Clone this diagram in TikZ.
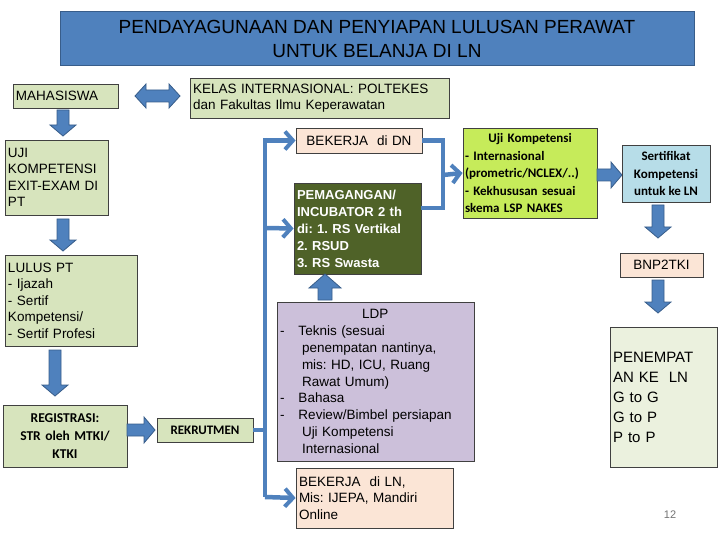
\documentclass[tikz,border=0pt]{standalone}
\usepackage{fontspec}
\setmainfont{Liberation Sans}
\newfontfamily\calfnt{Carlito}
\usetikzlibrary{arrows.meta}
\frenchspacing
\definecolor{bl}{HTML}{4F81BD}
\definecolor{bld}{HTML}{385D8A}
\definecolor{lg}{HTML}{D7E4BD}
\definecolor{pe}{HTML}{FBE5D6}
\definecolor{ol}{HTML}{4F6228}
\definecolor{lav}{HTML}{CCC0DA}
\definecolor{yg}{HTML}{C6EB5A}
\definecolor{sky}{HTML}{B7DDE8}
\definecolor{pl}{HTML}{EBF1DE}
\tikzset{
 box/.style={draw=black!75, line width=0.8pt, inner sep=3pt, font=\fontsize{13.5}{16.5}\selectfont, align=left},
 fat/.style={fill=bl, draw=bld, line width=0.8pt},
 conn/.style={draw=bl, line width=4.5pt},
 tip/.style={-{Straight Barb[length=8pt,width=18pt,line width=4pt]}}
}
\newcommand{\fatdn}[3]{\path[fat] (#1-6,#2) -- (#1+6,#2) -- (#1+6,#3-11) -- (#1+13,#3-11) -- (#1,#3) -- (#1-13,#3-11) -- (#1-6,#3-11) -- cycle;}
\newcommand{\fatrt}[3]{\path[fat] (#1,#3-6) -- (#2-11,#3-6) -- (#2-11,#3-13) -- (#2,#3) -- (#2-11,#3+13) -- (#2-11,#3+6) -- (#1,#3+6) -- cycle;}
\begin{document}
\begin{tikzpicture}[x=1pt,y=-1pt]
\useasboundingbox (0,0) rectangle (720,540);
% title
\node[fill=bl, draw=bld, line width=1pt, minimum width=634pt, minimum height=54pt, align=center, font=\fontsize{19}{24}\selectfont] (title) at (377,39) {PENDAYAGUNAAN DAN PENYIAPAN LULUSAN PERAWAT\\UNTUK BELANJA DI LN};
\node[box, fill=lg, minimum width=105pt, minimum height=24pt, text width=99pt] (mhs) at (65.5,96) {MAHASISWA};
\node[box, fill=lg, minimum width=259pt, minimum height=40pt, text width=253pt] (kelas) at (319.5,98) {KELAS INTERNASIONAL: POLTEKES\\dan Fakultas Ilmu Keperawatan};
\path[fat] (135,96) -- (146,84) -- (146,90) -- (169,90) -- (169,84) -- (180,96) -- (169,108) -- (169,102) -- (146,102) -- (146,108) -- cycle;
\node[box, fill=lg, minimum width=103pt, minimum height=75pt, text width=97pt] (uji) at (56.5,177.5) {UJI\\KOMPETENSI\\EXIT-EXAM DI\\PT};
\fatdn{63}{110}{136}
\fatdn{63}{219}{251}
\node[box, fill=lg, minimum width=132pt, minimum height=91pt, text width=126pt] (lulus) at (71,300.5) {LULUS PT\\- Ijazah\\- Sertif\\Kompetensi/\\- Sertif Profesi};
\fatdn{55}{350}{396}
\node[box, fill=lg, minimum width=124pt, minimum height=62pt, text width=118pt, align=center, font=\calfnt\bfseries\fontsize{13.5}{18}\selectfont] (reg) at (65,436) {REGISTRASI:\\STR oleh MTKI/\\KTKI};
\fatrt{127}{155}{430}
\node[box, fill=lg, minimum width=96pt, minimum height=24pt, align=center, font=\calfnt\bfseries\fontsize{13}{15}\selectfont] (rek) at (205,430) {REKRUTMEN};
% right column
\node[box, fill=pe, minimum width=126pt, minimum height=25pt, text width=120pt, align=center] (dn) at (359,140.5) {BEKERJA\ \ di DN};
\node[box, fill=ol, text=white, minimum width=127pt, minimum height=91pt, text width=121pt, font=\bfseries\fontsize{13}{17}\selectfont] (mag) at (357.5,228.5) {PEMAGANGAN/\\INCUBATOR 2 th\\di: 1. RS Vertikal\\2. RSUD\\3. RS Swasta};
\path[fat] (318,300) -- (318,288) -- (309,288) -- (325,274) -- (341,288) -- (332,288) -- (332,300) -- cycle;
\node[box, fill=lav, minimum width=197pt, minimum height=159pt, text width=191pt, font=\fontsize{13.5}{16.8}\selectfont] (ldp) at (375.5,381.5) {\hspace*{82pt}LDP\\
-\hspace{14pt}Teknis (sesuai\\\hspace*{22pt}penempatan nantinya,\\\hspace*{22pt}mis: HD, ICU, Ruang\\\hspace*{22pt}Rawat Umum)\\
-\hspace{14pt}Bahasa\\-\hspace{14pt}Review/Bimbel persiapan\\\hspace*{22pt}Uji Kompetensi\\\hspace*{22pt}Internasional};
\node[box, fill=pe, minimum width=157pt, minimum height=60pt, text width=151pt] (ln) at (374.5,498) {BEKERJA\ \ di LN,\\Mis: IJEPA, Mandiri\\Online};
\coordinate (vt) at (265,140.5);
\coordinate (vm) at (265,228);
\coordinate (vb) at (265,497);
\draw[conn] (rek.east) -- (rek.east -| vb);
\draw[conn] (265,138) -- (vb);
\draw[conn,tip] (vt) -- (dn.west);
\draw[conn,tip] (vm) -- (mag.west);
\draw[conn,tip] (vb) -- (ln.west);
\node[box, fill=yg, minimum width=134pt, minimum height=90pt, text width=130pt, inner sep=2pt, font=\calfnt\bfseries\fontsize{13}{17.5}\selectfont] (ujk) at (530,173) {\makebox[130pt][c]{Uji Kompetensi}\\- Internasional\\(prometric/NCLEX/..)\\- Kekhususan sesuai\\skema LSP NAKES};
\coordinate (jn) at (443,175);
\draw[conn] (dn.east) -| (jn) |- (mag.east |- 0,208);
\draw[conn,tip] (jn) -- (ujk.west);
\fatrt{597}{622}{175}
\node[box, fill=sky, minimum width=88pt, minimum height=57pt, align=center, font=\calfnt\bfseries\fontsize{13}{17.5}\selectfont] (ser) at (666,173.5) {Sertifikat\\Kompetensi\\untuk ke LN};
\fatdn{658}{205}{238}
\node[box, fill=pe, minimum width=83pt, minimum height=24pt, align=center] (bnp) at (661.5,265) {BNP2TKI};
\fatdn{658}{280}{313}
\node[box, fill=pl, minimum width=107pt, minimum height=140pt, text width=101pt, font=\fontsize{15}{20}\selectfont] (pen) at (663.5,397) {PENEMPAT\\AN KE\ \ LN\\G to G\\G to P\\P to P};
\node[text=black!55, font=\fontsize{11}{13}\selectfont] (pg) at (670,515) {12};
\end{tikzpicture}
\end{document}
